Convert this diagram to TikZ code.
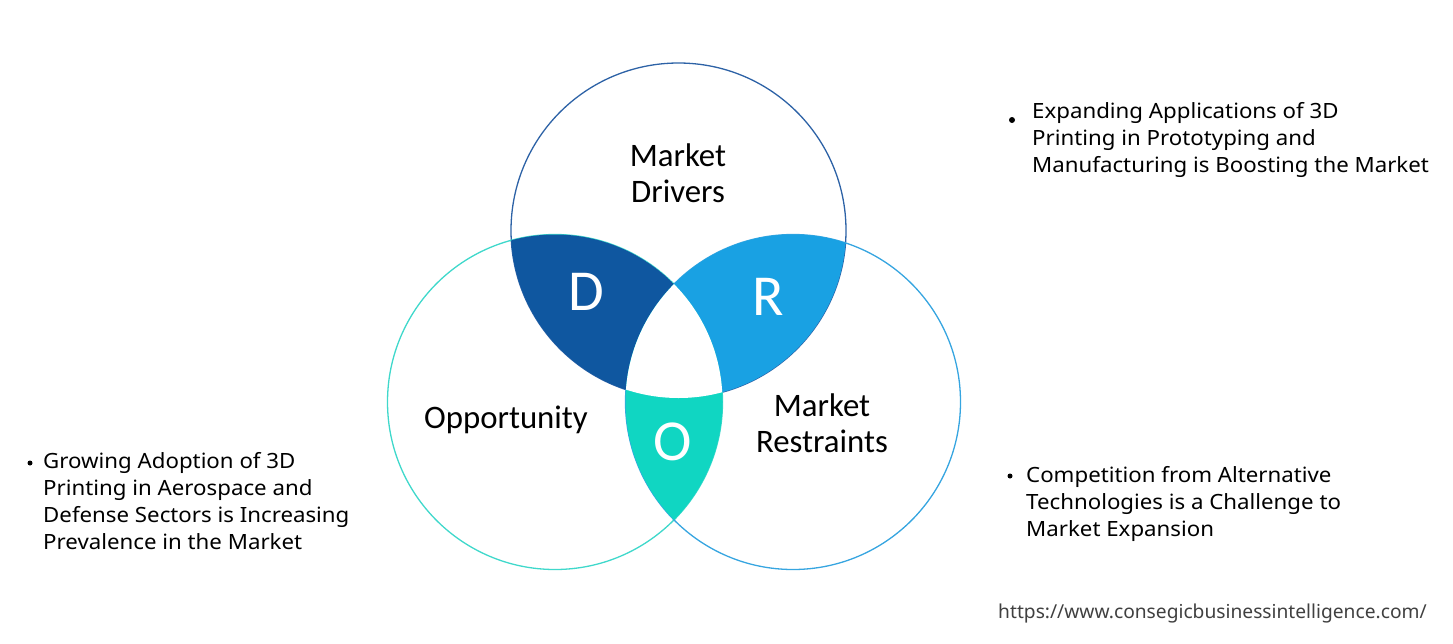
\documentclass[tikz,border=0pt]{standalone}
\usepackage{fontspec}
\setmainfont{Noto Sans}
\newfontfamily\bulfont[FakeStretch=1.06]{Noto Sans}
\newfontfamily\calfont{Carlito}
\newfontfamily\urlfont{Noto Sans}
\definecolor{dcol}{HTML}{0F57A0}
\definecolor{rcol}{HTML}{19A1E3}
\definecolor{ocol}{HTML}{10D6C2}
\definecolor{topline}{HTML}{2D62A6}
\definecolor{leftline}{HTML}{3FD8CB}
\definecolor{rightline}{HTML}{36A5E0}
\definecolor{urlcol}{HTML}{404040}
\tikzset{
  ring/.style={circle, minimum size=335pt, inner sep=0pt, line width=1.3pt},
  circlabel/.style={font=\calfont\fontsize{32.8}{36}\selectfont, align=center, inner sep=0pt, text=black},
  letter/.style={font=\calfont\fontsize{58}{60}\selectfont, text=white, inner sep=0pt},
  bullettext/.style={font=\bulfont\fontsize{21}{27}\selectfont, align=left, anchor=north west, inner sep=0pt, text=black},
  bulletdot/.style={circle, fill=black, inner sep=0pt, minimum size=5pt},
}
\begin{document}
\begin{tikzpicture}[x=1pt,y=-1pt]
\useasboundingbox (0,0) rectangle (1453,643);
% circles
\node[ring, draw=topline] (T) at (678.5,230.5) {};
\node[ring, draw=leftline] (L) at (555,402) {};
\node[ring, draw=rightline] (R) at (793,402) {};
% D region
\begin{scope}
  \clip (T.center) circle (167.5pt);
  \clip (L.center) circle (167.5pt);
  \fill[dcol] (L.center) circle (167.5pt);
\end{scope}
% R region
\begin{scope}
  \clip (T.center) circle (167.5pt);
  \clip (R.center) circle (167.5pt);
  \fill[rcol] (R.center) circle (167.5pt);
\end{scope}
% O region
\begin{scope}
  \clip (L.center) circle (167.5pt);
  \clip (R.center) circle (167.5pt);
  \fill[ocol] (R.center) circle (167.5pt);
\end{scope}
% center white
\begin{scope}
  \clip (T.center) circle (167.5pt);
  \clip (L.center) circle (167.5pt);
  \fill[white] (R.center) circle (167.5pt);
\end{scope}
% labels
\node[circlabel] (md) at (678,173) {Market\\Drivers};
\node[circlabel] (op) at (506,420) {Opportunity};
\node[circlabel] (mr) at (822,423) {Market\\Restraints};
\node[letter] (dl) at (586,292) {D};
\node[letter] (rl) at (768,297) {R};
\node[letter] (ol) at (673,442) {O};
% bullet texts
\node[bulletdot] (b1) at (30,463) {};
\node[bullettext] (t1) at (43,452.5) {Growing Adoption of 3D\\Printing in Aerospace and\\Defense Sectors is Increasing\\Prevalence in the Market};
\node[bulletdot, minimum size=6pt] (b2) at (1012,120) {};
\node[bullettext] (t2) at (1032,102.5) {Expanding Applications of 3D\\Printing in Prototyping and\\Manufacturing is Boosting the Market};
\node[bulletdot] (b3) at (1010,476) {};
\node[bullettext] (t3) at (1026,466) {Competition from Alternative\\Technologies is a Challenge to\\Market Expansion};
\node[font=\urlfont\fontsize{19.2}{22}\selectfont, text=urlcol, anchor=west, inner sep=0pt] (url) at (998,613) {https://www.consegicbusinessintelligence.com/};
\end{tikzpicture}
\end{document}
